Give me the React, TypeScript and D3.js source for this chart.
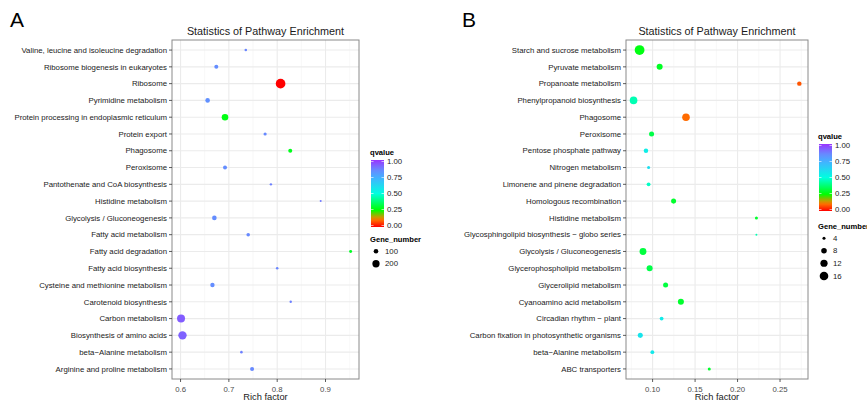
import React, { useEffect, useRef } from "react";
import * as d3 from "d3";

// ---- panel A data (top to bottom) ----
const pathwaysA = [
  "Valine, leucine and isoleucine degradation",
  "Ribosome biogenesis in eukaryotes",
  "Ribosome",
  "Pyrimidine metabolism",
  "Protein processing in endoplasmic reticulum",
  "Protein export",
  "Phagosome",
  "Peroxisome",
  "Pantothenate and CoA biosynthesis",
  "Histidine metabolism",
  "Glycolysis / Gluconeogenesis",
  "Fatty acid metabolism",
  "Fatty acid degradation",
  "Fatty acid biosynthesis",
  "Cysteine and methionine metabolism",
  "Carotenoid biosynthesis",
  "Carbon metabolism",
  "Biosynthesis of amino acids",
  "beta\u2212Alanine metabolism",
  "Arginine and proline metabolism",
];
const richA = [0.735, 0.674, 0.807, 0.656, 0.692, 0.775, 0.827, 0.692, 0.787, 0.89,
  0.67, 0.74, 0.952, 0.8, 0.666, 0.828, 0.601, 0.604, 0.726, 0.748];
const geneA = [54, 84, 330, 100, 171, 65, 84, 84, 51, 46, 100, 74, 61, 54, 94, 51, 236, 256, 54, 84];
const qvalA = [0.86, 0.84, 0.0, 0.83, 0.27, 0.85, 0.28, 0.84, 0.87, 0.88,
  0.84, 0.85, 0.29, 0.86, 0.84, 0.87, 0.93, 0.92, 0.87, 0.85];
const xTicksA = [0.6, 0.7, 0.8, 0.9];
const xMinorA = [0.65, 0.75, 0.85, 0.95];
const sizeBreaksA = [100, 200];

// ---- panel B data (top to bottom) ----
const pathwaysB = [
  "Starch and sucrose metabolism",
  "Pyruvate metabolism",
  "Propanoate metabolism",
  "Phenylpropanoid biosynthesis",
  "Phagosome",
  "Peroxisome",
  "Pentose phosphate pathway",
  "Nitrogen metabolism",
  "Limonene and pinene degradation",
  "Homologous recombination",
  "Histidine metabolism",
  "Glycosphingolipid biosynthesis \u2212 globo series",
  "Glycolysis / Gluconeogenesis",
  "Glycerophospholipid metabolism",
  "Glycerolipid metabolism",
  "Cyanoamino acid metabolism",
  "Circadian rhythm \u2212 plant",
  "Carbon fixation in photosynthetic organisms",
  "beta\u2212Alanine metabolism",
  "ABC transporters",
];
const richB = [0.0847, 0.1083, 0.2727, 0.0776, 0.1393, 0.0988, 0.0922, 0.0953, 0.0953, 0.1247,
  0.2222, 0.2222, 0.0887, 0.0965, 0.1153, 0.1333, 0.1106, 0.0855, 0.0997, 0.1667];
const geneB = [20, 9, 6, 13, 13, 7, 6, 4, 5, 7, 4, 3, 11, 9, 7, 9, 5, 7, 5, 4];
const qvalB = [0.27, 0.29, 0.08, 0.45, 0.1, 0.33, 0.55, 0.6, 0.47, 0.3,
  0.3, 0.45, 0.32, 0.33, 0.32, 0.3, 0.56, 0.58, 0.57, 0.3];
const xTicksB = [0.1, 0.15, 0.2, 0.25];
const xMinorB = [0.075, 0.125, 0.175, 0.225, 0.275];
const sizeBreaksB = [4, 8, 12, 16];

const qBreaks = [0, 0.25, 0.5, 0.75, 1];
const qStops = [0, 0.12, 0.25, 0.5, 0.72, 0.86, 1];
const qColors = ["#ff0000", "#ff8000", "#00ff00", "#00ffe0", "#3fb6ff", "#6a86ff", "#9a33ff"];

const FONT = "'Liberation Sans', Arial, sans-serif";

const color = d3.scaleLinear<string>().domain(qStops).range(qColors).interpolate(d3.interpolateRgb);

function drawPanel(svg, opt) {
  const { id, letter, letterX, left, right, top, bottom, cats, rich, genes, qv,
    xDomain, ticks, minor, fmt, sizeDomain, sizeArea, sizeBreaks, legendX, legendY, geneY } = opt;

  const g = svg.append("g");
  const x = d3.scaleLinear().domain(xDomain).range([left, right]);
  const y = d3.scalePoint().domain(cats).range([top, bottom]).padding(0.6);
  const area = d3.scaleLinear().domain(sizeDomain).range([0, sizeArea]).clamp(true);
  const r = (v) => Math.sqrt(area(v));

  g.append("text").attr("x", letterX).attr("y", 27).attr("font-size", 21)
    .attr("font-family", FONT).text(letter);

  // panel background + grid
  g.append("rect").attr("x", left).attr("y", top).attr("width", right - left)
    .attr("height", bottom - top).attr("fill", "#fff");
  g.selectAll(".minor").data(minor).enter().append("line")
    .attr("x1", (d) => x(d)).attr("x2", (d) => x(d)).attr("y1", top).attr("y2", bottom)
    .attr("stroke", "#f4f4f4").attr("stroke-width", 0.6);
  g.selectAll(".majx").data(ticks).enter().append("line")
    .attr("x1", (d) => x(d)).attr("x2", (d) => x(d)).attr("y1", top).attr("y2", bottom)
    .attr("stroke", "#ebebeb").attr("stroke-width", 1.1);
  g.selectAll(".majy").data(cats).enter().append("line")
    .attr("x1", left).attr("x2", right).attr("y1", (d) => y(d)).attr("y2", (d) => y(d))
    .attr("stroke", "#ebebeb").attr("stroke-width", 1.1);

  // points
  g.selectAll("circle.pt").data(cats).enter().append("circle")
    .attr("cx", (d, i) => x(rich[i])).attr("cy", (d) => y(d))
    .attr("r", (d, i) => r(genes[i])).attr("fill", (d, i) => color(qv[i]));

  g.append("rect").attr("x", left).attr("y", top).attr("width", right - left)
    .attr("height", bottom - top).attr("fill", "none").attr("stroke", "#8a8a8a").attr("stroke-width", 1);

  // y axis
  g.selectAll(".yt").data(cats).enter().append("line")
    .attr("x1", left - 3).attr("x2", left).attr("y1", (d) => y(d)).attr("y2", (d) => y(d))
    .attr("stroke", "#333").attr("stroke-width", 0.8);
  g.selectAll(".yl").data(cats).enter().append("text")
    .attr("x", left - 5).attr("y", (d) => y(d)).attr("dy", "0.35em")
    .attr("text-anchor", "end").attr("font-size", 7.8).attr("font-family", FONT)
    .attr("fill", "#1a1a1a").text((d) => d);

  // x axis
  g.selectAll(".xt").data(ticks).enter().append("line")
    .attr("x1", (d) => x(d)).attr("x2", (d) => x(d)).attr("y1", bottom).attr("y2", bottom + 3)
    .attr("stroke", "#333").attr("stroke-width", 0.8);
  g.selectAll(".xl").data(ticks).enter().append("text")
    .attr("x", (d) => x(d)).attr("y", bottom + 12.5).attr("text-anchor", "middle")
    .attr("font-size", 7.8).attr("font-family", FONT).attr("fill", "#4d4d4d")
    .text((d) => d3.format(fmt)(d));
  g.append("text").attr("x", (left + right) / 2).attr("y", 400).attr("text-anchor", "middle")
    .attr("font-size", 9.3).attr("font-family", FONT).attr("fill", "#1a1a1a").text("Rich factor");
  g.append("text").attr("x", (left + right) / 2).attr("y", 35).attr("text-anchor", "middle")
    .attr("font-size", 10.8).attr("font-family", FONT).attr("fill", "#1a1a1a")
    .text("Statistics of Pathway Enrichment");

  // qvalue legend
  const barTop = legendY + 5;
  const barH = 67;
  const grad = svg.append("defs").append("linearGradient").attr("id", "grad" + id)
    .attr("x1", 0).attr("x2", 0).attr("y1", 1).attr("y2", 0);
  d3.range(0, 1.0001, 0.05).forEach((t) => {
    grad.append("stop").attr("offset", t).attr("stop-color", color(t));
  });
  g.append("text").attr("x", legendX).attr("y", legendY).attr("font-size", 7.6)
    .attr("font-weight", "bold").attr("font-family", FONT).text("qvalue");
  g.append("rect").attr("x", legendX + 1).attr("y", barTop).attr("width", 13).attr("height", barH)
    .attr("fill", `url(#grad${id})`);
  const qy = d3.scaleLinear().domain([0, 1]).range([barTop + barH - 1.5, barTop + 1.5]);
  g.selectAll(".qt").data(qBreaks).enter().append("g").each(function (d) {
    const s = d3.select(this);
    s.append("line").attr("x1", legendX + 1).attr("x2", legendX + 3.5)
      .attr("y1", qy(d)).attr("y2", qy(d)).attr("stroke", "#fff").attr("stroke-width", 0.6);
    s.append("line").attr("x1", legendX + 11.5).attr("x2", legendX + 14)
      .attr("y1", qy(d)).attr("y2", qy(d)).attr("stroke", "#fff").attr("stroke-width", 0.6);
    s.append("text").attr("x", legendX + 17).attr("y", qy(d)).attr("dy", "0.35em")
      .attr("font-size", 7.8).attr("font-family", FONT).attr("fill", "#1a1a1a")
      .text(d3.format(".2f")(d));
  });

  // size legend
  g.append("text").attr("x", legendX).attr("y", geneY).attr("font-size", 7.6)
    .attr("font-weight", "bold").attr("font-family", FONT).text("Gene_number");
  let cy = geneY + 3;
  sizeBreaks.forEach((b) => {
    const rr = r(b);
    const h = Math.max(12.5, rr * 2 + 4.5);
    cy += h / 2;
    g.append("circle").attr("cx", legendX + 6).attr("cy", cy).attr("r", rr).attr("fill", "#000");
    g.append("text").attr("x", legendX + 15).attr("y", cy).attr("dy", "0.35em")
      .attr("font-size", 7.8).attr("font-family", FONT).attr("fill", "#1a1a1a").text(b);
    cy += h / 2;
  });
}

const App = () => {
  const ref = useRef(null);

  useEffect(() => {
    const svg = d3.select(ref.current);
    svg.selectAll("*").remove();

    drawPanel(svg, {
      id: "A", letter: "A", letterX: 10, left: 172, right: 359, top: 40, bottom: 379,
      cats: pathwaysA, rich: richA, genes: geneA, qv: qvalA,
      xDomain: [0.5823, 0.9693], ticks: xTicksA, minor: xMinorA, fmt: ".1f",
      sizeDomain: [33, 350], sizeArea: 25, sizeBreaks: sizeBreaksA,
      legendX: 370, legendY: 155, geneY: 242,
    });
    drawPanel(svg, {
      id: "B", letter: "B", letterX: 462, left: 626, right: 808, top: 40, bottom: 379,
      cats: pathwaysB, rich: richB, genes: geneB, qv: qvalB,
      xDomain: [0.0687, 0.2829], ticks: xTicksB, minor: xMinorB, fmt: ".2f",
      sizeDomain: [2.3, 20], sizeArea: 23.9, sizeBreaks: sizeBreaksB,
      legendX: 818, legendY: 139, geneY: 229,
    });
  }, []);

  return (
    <svg ref={ref} width={867} height={402}
      style={{ position: "absolute", left: 0, top: 0, background: "#fff" }} />
  );
};

export default App;
